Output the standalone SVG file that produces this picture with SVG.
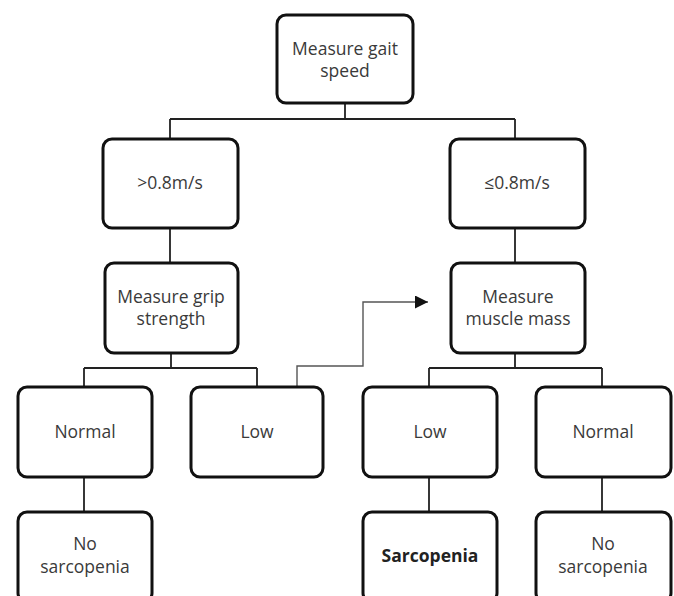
<svg xmlns="http://www.w3.org/2000/svg" width="674" height="596" viewBox="0 0 674 596">
<style>
.box{fill:#fff;stroke:#111;stroke-width:3;}
.t{font-family:"Open Sans","DejaVu Sans",sans-serif;font-size:17.5px;fill:#3a3a3a;text-anchor:middle;}
.b{font-weight:bold;fill:#222;}
.c{fill:none;stroke:#222;stroke-width:1.8;}
.a{fill:none;stroke:#555;stroke-width:1.4;}
</style>
<defs>
<marker id="ah" viewBox="0 0 10 10" refX="10" refY="5" markerWidth="13" markerHeight="13" markerUnits="userSpaceOnUse" orient="auto">
<path d="M0,0 L10,5 L0,10 Z" fill="#111"/>
</marker>
</defs>
<rect width="674" height="596" fill="#fff"/>
<g id="connectors">
<path class="c" d="M345,103 V119 M170,119 H515 M170,119 V139 M515,119 V139"/>
<path class="c" d="M170,228 V263 M515,228 V263"/>
<path class="c" d="M171,353 V368 M84,368 H257 M84,368 V387 M257,368 V387"/>
<path class="c" d="M515,353 V368 M429,368 H602 M429,368 V387 M602,368 V387"/>
<path class="c" d="M84,477 V512 M429,477 V512 M602,477 V512"/>
<path class="a" d="M297,387 V366 H363 V302 H428" marker-end="url(#ah)"/>
</g>
<g id="n1"><rect class="box" x="277" y="15" width="136" height="88" rx="9"/><text class="t" x="345" y="55">Measure gait</text><text class="t" x="345" y="77">speed</text></g>
<g id="n2"><rect class="box" x="103" y="139" width="135" height="89" rx="9"/><text class="t" x="170" y="189">&gt;0.8m/s</text></g>
<g id="n3"><rect class="box" x="450" y="139" width="135" height="89" rx="9"/><text class="t" x="517" y="189">≤0.8m/s</text></g>
<g id="n4"><rect class="box" x="105" y="263" width="133" height="90" rx="9"/><text class="t" x="171" y="303">Measure grip</text><text class="t" x="171" y="325">strength</text></g>
<g id="n5"><rect class="box" x="451" y="263" width="134" height="90" rx="9"/><text class="t" x="518" y="303">Measure</text><text class="t" x="518" y="325">muscle mass</text></g>
<g id="n6"><rect class="box" x="18" y="387" width="134" height="90" rx="9"/><text class="t" x="85" y="438">Normal</text></g>
<g id="n7"><rect class="box" x="191" y="387" width="132" height="90" rx="9"/><text class="t" x="257" y="438">Low</text></g>
<g id="n8"><rect class="box" x="363" y="387" width="134" height="90" rx="9"/><text class="t" x="430" y="438">Low</text></g>
<g id="n9"><rect class="box" x="536" y="387" width="135" height="90" rx="9"/><text class="t" x="603" y="438">Normal</text></g>
<g id="n10"><rect class="box" x="18" y="512" width="134" height="90" rx="9"/><text class="t" x="85" y="550">No</text><text class="t" x="85" y="573">sarcopenia</text></g>
<g id="n11"><rect class="box" x="363" y="512" width="134" height="90" rx="9"/><text class="t b" x="430" y="562">Sarcopenia</text></g>
<g id="n12"><rect class="box" x="536" y="512" width="135" height="90" rx="9"/><text class="t" x="603" y="550">No</text><text class="t" x="603" y="573">sarcopenia</text></g>
</svg>
